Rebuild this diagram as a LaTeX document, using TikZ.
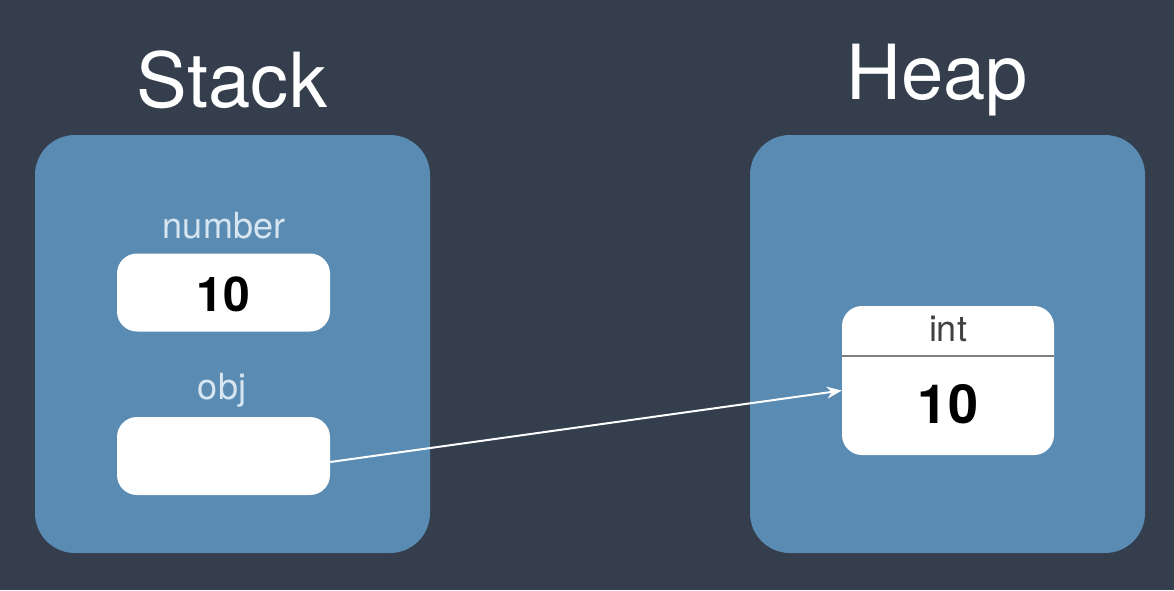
\documentclass[tikz,border=0pt]{standalone}
\usepackage{fontspec}
\setmainfont{TeX Gyre Heros}
\usetikzlibrary{arrows.meta,calc}
\definecolor{bgdark}{HTML}{343E4C}
\definecolor{panelblue}{HTML}{5A8BB3}
\definecolor{labelblue}{HTML}{D6E5F0}
\begin{document}
\begin{tikzpicture}[
		x=1pt, y=-1pt,
		panel/.style={fill=panelblue, rounded corners=40pt, minimum width=395pt, minimum height=418pt, inner sep=0pt},
		cell/.style={fill=white, rounded corners=20pt, minimum width=213pt, minimum height=78pt, inner sep=0pt},
		title/.style={text=white, font=\fontsize{76}{90}\selectfont},
		varname/.style={text=labelblue, font=\fontsize{36}{43}\selectfont},
		value/.style={text=black, font=\fontsize{48}{56}\selectfont\bfseries},
		pointer/.style={draw=white, line width=2pt, -{Stealth[length=15pt,width=12pt]}},
		]
		\fill[bgdark] (0,0) rectangle (1174,590);
		\useasboundingbox (0,0) rectangle (1174,590);
		% stack side
		\node[title] (stacktitle) at (232,80) {Stack};
		\node[panel] (stack) at (232.5,344) {};
		\node[varname] (numname) at (224,226) {number};
		\node[cell] (numbox) at (223.5,292.5) {};
		\node[value] (numval) at (223.5,294) {10};
		\node[varname] (objname) at (222,390) {obj};
		\node[cell] (objbox) at (223.5,456) {};
		% heap side
		\node[title] (heaptitle) at (937,80) {Heap};
		\node[panel] (heap) at (947.5,344) {};
		\node[cell, minimum width=212pt, minimum height=149pt] (heapbox) at (948,380.5) {};
		\draw[gray, line width=2pt] ([yshift=-50pt]heapbox.north west) -- ([yshift=-50pt]heapbox.north east);
		\node[font=\fontsize{36}{43}\selectfont, text=black!75] (inttype) at (948,329) {int};
		\node[value, font=\fontsize{54}{64}\selectfont\bfseries] (heapval) at (948,404) {10};
		% reference
		\draw[pointer] ($(objbox.east)+(0,6)$) -- ($(heapbox.west)+(0,10)$);
	\end{tikzpicture}
\end{document}
